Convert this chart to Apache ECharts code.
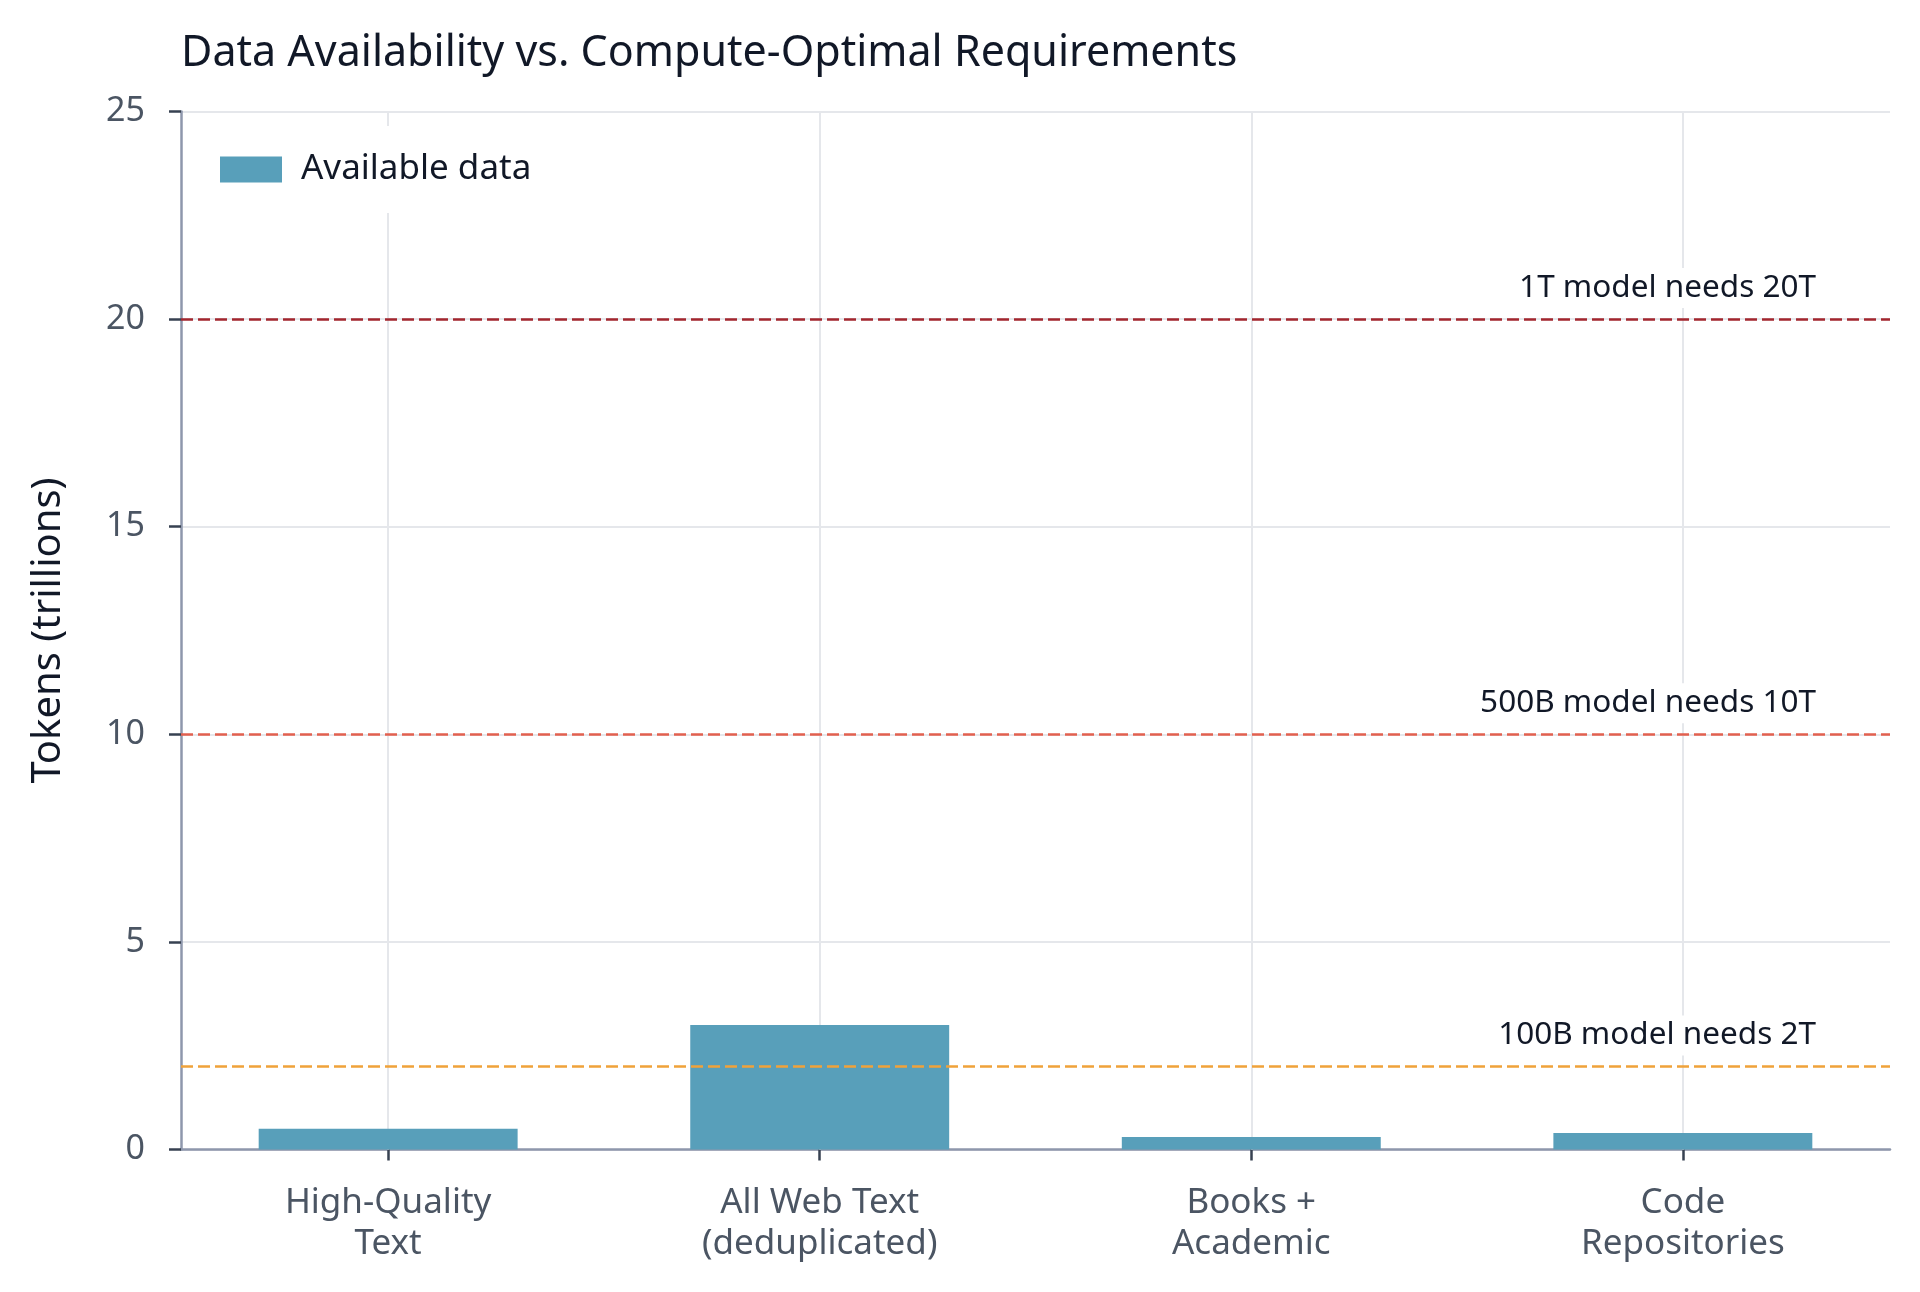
<!DOCTYPE html>
<html>
<head>
<meta charset="utf-8">
<script src="https://cdn.jsdelivr.net/npm/echarts@6/dist/echarts.min.js"></script>
<style>
  html, body { margin: 0; padding: 0; background: #fff; }
  #chart { width: 1920px; height: 1292px; }
</style>
</head>
<body>
<div id="chart"></div>
<script>
var FONT = '"Noto Sans", "DejaVu Sans", sans-serif';

var categories = ['High-Quality\nText', 'All Web Text\n(deduplicated)', 'Books +\nAcademic', 'Code\nRepositories'];
var availableData = [0.5, 3.0, 0.3, 0.4];

var requirementValues = [20, 10, 2];
var requirementLabels = ['1T model needs 20T', '500B model needs 10T', '100B model needs 2T'];
var requirementColors = ['#a3262e', '#e2604f', '#f0a23a'];

var yTicks = [0, 5, 10, 15, 20, 25];

var chart = echarts.init(document.getElementById('chart'));

// plot frame spans x = -0.48 .. 3.48 in category units, so the category grid
// is a bit wider than the frame grid
var frameLeft = 181, frameRight = 30;
var catUnit = (1920 - frameLeft - frameRight) / 3.96;
var innerLeft = frameLeft + 0.48 * catUnit - 0.5 * catUnit;
var innerRight = frameRight + 0.48 * catUnit - 0.5 * catUnit;

var requirementLines = requirementValues.map(function (v, i) {
    return {
        yAxis: v,
        lineStyle: { color: requirementColors[i], type: [12, 5], width: 2.5 },
        label: {
            show: true,
            position: 'insideEndTop',
            formatter: requirementLabels[i],
            distance: [68, 11],
            fontFamily: FONT,
            fontSize: 31.5,
            color: '#111827',
            backgroundColor: '#fff',
            padding: [4, 6]
        }
    };
});

var option = {
    backgroundColor: '#fff',
    animation: false,
    title: {
        text: 'Data Availability vs. Compute-Optimal Requirements',
        left: 176,
        top: 27,
        textStyle: { fontFamily: FONT, fontSize: 43, fontWeight: 'normal', color: '#111827' }
    },
    legend: {
        data: ['Available data'],
        left: 200,
        top: 126,
        orient: 'vertical',
        icon: 'rect',
        itemWidth: 62,
        itemHeight: 26,
        backgroundColor: '#fff',
        padding: [26, 20],
        textStyle: { fontFamily: FONT, fontSize: 35, color: '#111827', padding: [0, 0, 0, 14] }
    },
    grid: [
        { left: frameLeft, right: frameRight, top: 111.5, bottom: 142.5 },
        { left: innerLeft, right: innerRight, top: 111.5, bottom: 142.5 }
    ],
    xAxis: [
        {
            type: 'value',
            gridIndex: 0,
            min: 0,
            max: 1,
            axisLine: { show: true, lineStyle: { color: '#8e97ac', width: 2.5 } },
            axisTick: { show: false },
            axisLabel: { show: false },
            splitLine: { show: false }
        },
        {
            type: 'category',
            gridIndex: 1,
            data: categories,
            axisLine: { show: false },
            axisTick: { show: true, alignWithLabel: true, length: 11, lineStyle: { color: '#374151', width: 2.5 } },
            axisLabel: { fontFamily: FONT, fontSize: 35, color: '#4b5563', lineHeight: 41, margin: 33 },
            splitLine: { show: false }
        }
    ],
    yAxis: [
        {
            type: 'value',
            gridIndex: 0,
            min: 0,
            max: yTicks[yTicks.length - 1],
            interval: yTicks[1] - yTicks[0],
            name: 'Tokens (trillions)',
            nameLocation: 'middle',
            nameGap: 112,
            nameTextStyle: { fontFamily: FONT, fontSize: 40, color: '#111827' },
            axisLine: { show: true, lineStyle: { color: '#8e97ac', width: 2.5 } },
            axisTick: { show: true, length: 12, lineStyle: { color: '#374151', width: 2.5 } },
            axisLabel: { fontFamily: FONT, fontSize: 34, color: '#4b5563', margin: 36 },
            splitLine: { show: true, lineStyle: { color: '#e5e7eb', width: 2 } }
        },
        {
            type: 'value',
            gridIndex: 1,
            min: 0,
            max: yTicks[yTicks.length - 1],
            show: false
        }
    ],
    series: [
        {
            name: 'vgrid',
            type: 'line',
            xAxisIndex: 1,
            yAxisIndex: 1,
            data: [],
            silent: true,
            z: 1,
            markLine: {
                silent: true,
                symbol: 'none',
                z: 1,
                label: { show: false },
                lineStyle: { color: '#e5e7eb', type: 'solid', width: 2 },
                data: categories.map(function (c) { return { xAxis: c }; })
            }
        },
        {
            name: 'Available data',
            type: 'bar',
            xAxisIndex: 1,
            yAxisIndex: 1,
            data: availableData,
            barWidth: '60%',
            z: 2,
            itemStyle: { color: '#589fba' }
        },
        {
            name: 'requirements',
            type: 'line',
            xAxisIndex: 0,
            yAxisIndex: 0,
            data: [],
            silent: true,
            z: 5,
            markLine: {
                silent: true,
                symbol: 'none',
                z: 5,
                data: requirementLines
            }
        }
    ]
};

chart.setOption(option);
</script>
</body>
</html>
